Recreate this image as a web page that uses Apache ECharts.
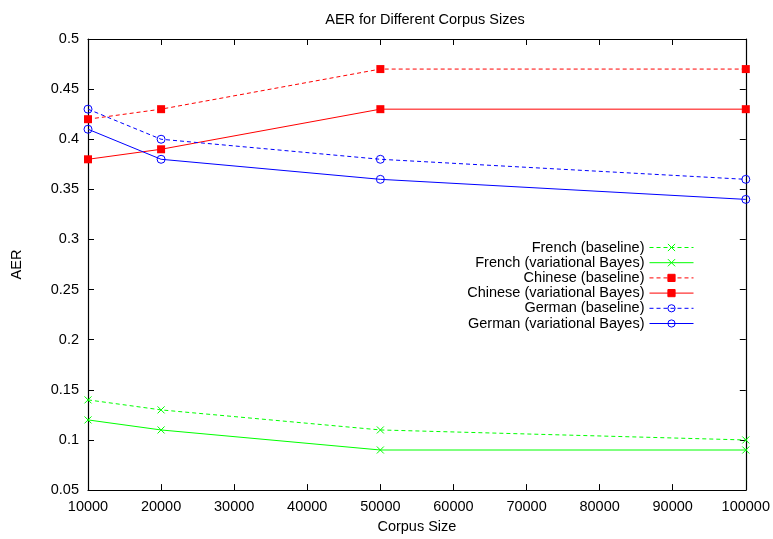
<!DOCTYPE html>
<html>
<head>
<meta charset="utf-8">
<script src="https://cdn.jsdelivr.net/npm/echarts@6/dist/echarts.min.js"></script>
<style>
  html, body { margin: 0; padding: 0; background: #fff; }
  #chart { width: 773px; height: 539px; }
</style>
</head>
<body>
<div id="chart"></div>
<script>
// Corpus sizes (x) and AER values per system
const corpusSizes = [10000, 20000, 50000, 100000];
const frenchBaseline = [0.14, 0.13, 0.11, 0.10];
const frenchVB = [0.12, 0.11, 0.09, 0.09];
const chineseBaseline = [0.42, 0.43, 0.47, 0.47];
const chineseVB = [0.38, 0.39, 0.43, 0.43];
const germanBaseline = [0.43, 0.40, 0.38, 0.36];
const germanVB = [0.41, 0.38, 0.36, 0.34];

const FONT = 'Liberation Sans, Arial, sans-serif';
const FS = 14.5;
const crossPath = 'path://M0,0L10,10M10,0L0,10';

const GREEN = '#00ff00', RED = '#ff0000', BLUE = '#0000ff';

function pairs(vals) {
  return corpusSizes.map((x, i) => [x, vals[i]]);
}

function makeSeries(name, vals, color, dashed, kind) {
  const s = {
    name: name,
    type: 'line',
    data: pairs(vals),
    xAxisIndex: 0,
    yAxisIndex: 0,
    animation: false,
    clip: false,
    color: color,
    lineStyle: { color: color, width: 1, type: dashed ? [4, 3] : 'solid' },
    emphasis: { disabled: true }
  };
  if (kind === 'cross') {
    s.symbol = crossPath;
    s.symbolSize = 7;
    s.itemStyle = { color: 'transparent', borderColor: color, borderWidth: 1 };
  } else if (kind === 'square') {
    s.symbol = 'rect';
    s.symbolSize = 8;
    s.itemStyle = { color: color, borderColor: color, borderWidth: 0 };
  } else {
    s.symbol = 'circle';
    s.symbolSize = 8;
    s.itemStyle = { color: 'transparent', borderColor: color, borderWidth: 1 };
  }
  return s;
}

function legendItem(name, color, dashed) {
  return { name: name, lineStyle: { color: color, width: 1, type: dashed ? [4, 3] : 'solid' } };
}

const tickStyle = { show: true, inside: true, length: 6, lineStyle: { color: '#000', width: 1 } };
const axisLineStyle = { show: true, onZero: false, lineStyle: { color: '#000', width: 1.2 } };
const labelStyle = { color: '#000', fontFamily: FONT, fontSize: FS };

const chart = echarts.init(document.getElementById('chart'), null, { renderer: 'canvas' });
chart.setOption({
  backgroundColor: '#fff',
  animation: false,
  title: {
    text: 'AER for Different Corpus Sizes',
    left: 420,
    top: 7,
    textAlign: 'center',
    textStyle: { color: '#000', fontFamily: FONT, fontSize: FS, fontWeight: 'normal' }
  },
  legend: {
    orient: 'vertical',
    right: 74,
    top: 235,
    align: 'right',
    itemWidth: 44,
    itemHeight: 9,
    itemGap: 0.2,
    itemStyle: { borderWidth: 1 },
    lineStyle: { width: 1 },
    textStyle: { color: '#000', fontFamily: FONT, fontSize: FS, lineHeight: 15 },
    selectedMode: false,
    data: [
      legendItem('French (baseline)', GREEN, true),
      legendItem('French (variational Bayes)', GREEN, false),
      legendItem('Chinese (baseline)', RED, true),
      legendItem('Chinese (variational Bayes)', RED, false),
      legendItem('German (baseline)', BLUE, true),
      legendItem('German (variational Bayes)', BLUE, false)
    ]
  },
  grid: { left: 88, right: 26, top: 39, bottom: 48, containLabel: false },
  xAxis: [
    {
      type: 'value', min: 10000, max: 100000, interval: 10000, position: 'bottom',
      name: 'Corpus Size', nameLocation: 'middle', nameGap: 24,
      nameTextStyle: { color: '#000', fontFamily: FONT, fontSize: FS },
      axisLine: axisLineStyle, axisTick: tickStyle,
      axisLabel: Object.assign({ margin: 9, formatter: v => String(v) }, labelStyle),
      splitLine: { show: false }
    },
    {
      type: 'value', min: 10000, max: 100000, interval: 10000, position: 'top',
      axisLine: axisLineStyle, axisTick: tickStyle,
      axisLabel: { show: false }, splitLine: { show: false }
    }
  ],
  yAxis: [
    {
      type: 'value', min: 0.05, max: 0.5, interval: 0.05, position: 'left',
      name: 'AER', nameLocation: 'middle', nameGap: 64, nameRotate: 90,
      nameTextStyle: { color: '#000', fontFamily: FONT, fontSize: FS },
      axisLine: axisLineStyle, axisTick: tickStyle,
      axisLabel: Object.assign({ margin: 9, formatter: v => String(+v.toFixed(2)) }, labelStyle),
      splitLine: { show: false }
    },
    {
      type: 'value', min: 0.05, max: 0.5, interval: 0.05, position: 'right',
      axisLine: axisLineStyle, axisTick: tickStyle,
      axisLabel: { show: false }, splitLine: { show: false }
    }
  ],
  series: [
    makeSeries('French (baseline)', frenchBaseline, GREEN, true, 'cross'),
    makeSeries('French (variational Bayes)', frenchVB, GREEN, false, 'cross'),
    makeSeries('Chinese (baseline)', chineseBaseline, RED, true, 'square'),
    makeSeries('Chinese (variational Bayes)', chineseVB, RED, false, 'square'),
    makeSeries('German (baseline)', germanBaseline, BLUE, true, 'circle'),
    makeSeries('German (variational Bayes)', germanVB, BLUE, false, 'circle')
  ]
});
</script>
</body>
</html>
